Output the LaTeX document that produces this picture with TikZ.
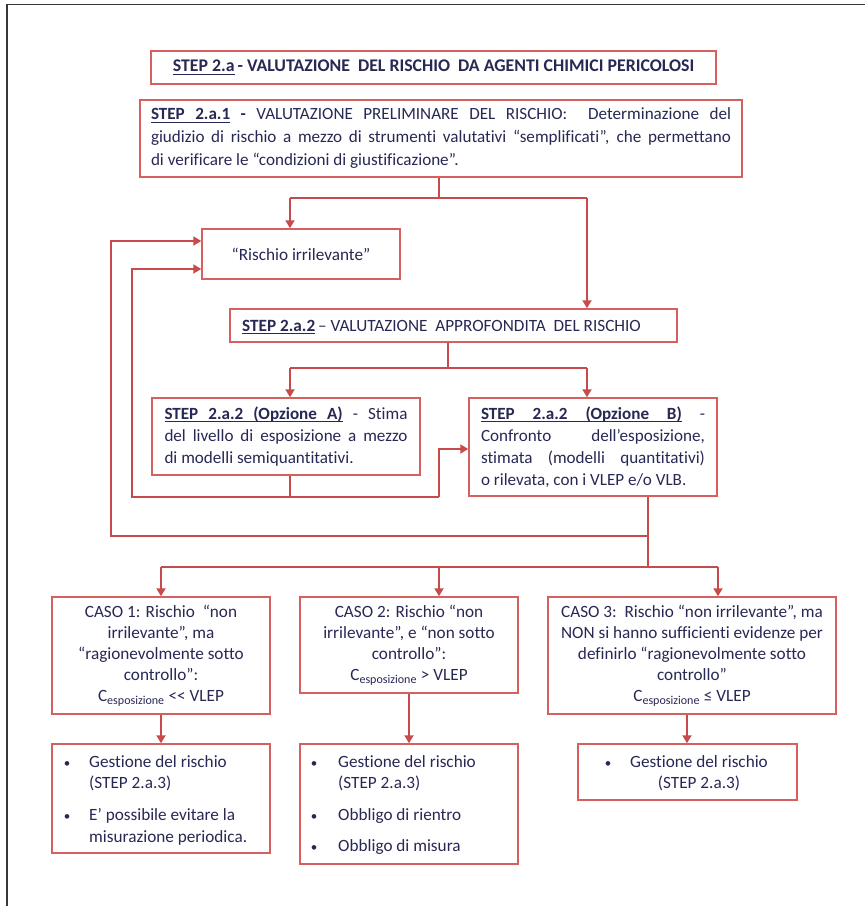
\documentclass[tikz,border=0pt]{standalone}
\usepackage{fontspec}
\setmainfont{Carlito}[Ligatures={TeX,NoCommon}]
\usetikzlibrary{arrows.meta}
\definecolor{navy}{RGB}{40,40,85}
\definecolor{redline}{RGB}{200,75,75}
\definecolor{redbox}{RGB}{214,96,96}
\definecolor{framegray}{RGB}{55,55,55}
\newcommand\uw[1]{\leavevmode\setbox0\hbox{#1}\rlap{\vrule height -1.8pt depth 3.0pt width \wd0}\box0}
\newcommand\us{\leaders\hrule height -1.8pt depth 3.0pt\hskip\fontdimen2\font plus\fontdimen3\font minus\fontdimen4\font}
\begin{document}
\begin{tikzpicture}[x=1pt,y=-1pt,
  box/.style={draw=redbox,line width=1.4pt,inner sep=0pt,text=navy},
  conn/.style={draw=redline,line width=1.8pt},
  arr/.style={conn,-{Triangle[length=8pt,width=9pt]}},
  f/.style={font=\fontsize{17.2}{21}\selectfont},
  txt/.style={text=navy,inner sep=0pt,font=\fontsize{17.2}{21}\selectfont},
  bul/.style={text=navy,inner sep=0pt,font=\fontsize{13}{21}\selectfont}]
\useasboundingbox (0,0) rectangle (865,906);
\fill[white] (0,0) rectangle (865,906);
% page frame
\draw[framegray,line width=1.5pt] (7,906) -- (7,4.5) -- (865,4.5);

% boxes
\node[box,minimum width=565,minimum height=33,font=\bfseries\fontsize{17.8}{20}\selectfont] (title) at (433.5,67.5)
  {\uw{STEP 2.a}\,- VALUTAZIONE\ \ DEL RISCHIO\ \ DA AGENTI CHIMICI PERICOLOSI};

\node[box,minimum width=602,minimum height=77,text width=580,align=justify,font=\fontsize{17.1}{23}\selectfont] (s1) at (441,138.5)
  {\textbf{\uw{STEP}\us\uw{2.a.1}} \textbf{-} VALUTAZIONE PRELIMINARE DEL RISCHIO:\ \ Determinazione del\linebreak giudizio di rischio a mezzo di strumenti valutativi “semplificati”, che permettano\linebreak di verificare le “condizioni di giustificazione”.};

\node[box,minimum width=198,minimum height=50,f] (ri) at (301,254) {“Rischio irrilevante”};

\node[box,minimum width=447,minimum height=33] (s2) at (453.5,325.5) {};
\node[txt,anchor=base west] (s2t) at (242,331) {\textbf{\uw{STEP 2.a.2}}\,– VALUTAZIONE\ \ APPROFONDITA\ \ DEL RISCHIO};

\node[box,minimum width=268,minimum height=77,text width=243,align=justify,font=\fontsize{17.1}{22}\selectfont] (oa) at (286,436.5)
  {\textbf{\uw{STEP}\us\uw{2.a.2}\us\uw{(Opzione}\us\uw{A)}} - Stima\linebreak del livello di esposizione a mezzo\linebreak di modelli semiquantitativi.};

\node[box,minimum width=248,minimum height=98,text width=224,align=justify,font=\fontsize{17.1}{22}\selectfont] (ob) at (593,447)
  {\textbf{\uw{STEP}\us\uw{2.a.2}\us\uw{(Opzione}\us\uw{B)}} -\linebreak Confronto dell’esposizione,\linebreak stimata (modelli quantitativi)\linebreak o rilevata, con i VLEP e/o VLB.};

\node[box,minimum width=218,minimum height=117,align=center,f] (c1) at (161,655.5)
  {CASO 1: Rischio\ \ “non\\irrilevante”, ma\\“ragionevolmente sotto\\controllo”:\\C\textsubscript{esposizione} <{}< VLEP};
\node[box,minimum width=218,minimum height=96,align=center,f] (c2) at (409,645)
  {CASO 2: Rischio “non\\irrilevante”, e “non sotto\\controllo”:\\C\textsubscript{esposizione} > VLEP};
\node[box,minimum width=288,minimum height=117,align=center,f] (c3) at (692,655.5)
  {CASO 3:\ \ Rischio “non irrilevante”, ma\\NON si hanno sufficienti evidenze per\\definirlo “ragionevolmente sotto\\controllo”\\C\textsubscript{esposizione} ≤ VLEP};

\node[box,minimum width=218,minimum height=109] (g1) at (161,798.5) {};
\node[bul,anchor=base] (g1b1) at (67,767) {•};
\node[txt,anchor=base west] (g1t1) at (89,767) {Gestione del rischio};
\node[txt,anchor=base west] (g1t2) at (89,788) {(STEP 2.a.3)};
\node[bul,anchor=base] (g1b2) at (67,820) {•};
\node[txt,anchor=base west] (g1t3) at (89,820) {E’ possibile evitare la};
\node[txt,anchor=base west] (g1t4) at (89,842) {misurazione periodica.};

\node[box,minimum width=218,minimum height=120] (g2) at (409,804) {};
\node[bul,anchor=base] (g2b1) at (314,767) {•};
\node[txt,anchor=base west] (g2t1) at (338,767) {Gestione del rischio};
\node[txt,anchor=base west] (g2t2) at (338,788) {(STEP 2.a.3)};
\node[bul,anchor=base] (g2b2) at (314,820) {•};
\node[txt,anchor=base west] (g2t3) at (338,820) {Obbligo di rientro};
\node[bul,anchor=base] (g2b3) at (314,851) {•};
\node[txt,anchor=base west] (g2t4) at (338,851) {Obbligo di misura};

\node[box,minimum width=219,minimum height=56] (g3) at (687.5,772) {};
\node[bul,anchor=base] (g3b1) at (608,767) {•};
\node[txt,anchor=base west] (g3t1) at (630,767) {Gestione del rischio};
\node[txt,anchor=base] (g3t2) at (699,788) {(STEP 2.a.3)};

% connectors
\coordinate (a1) at (439,198);
\coordinate (a1l) at (290,198);
\coordinate (a1r) at (587,198);
\draw[conn] (a1 |- s1.south) -- (a1);
\draw[conn] (a1l) -- (a1r);
\draw[arr] (a1l) -- (a1l |- ri.north);
\draw[arr] (a1r) -- (a1r |- s2.north);

\coordinate (b1) at (448,368);
\coordinate (b1l) at (290,368);
\coordinate (b1r) at (587,368);
\draw[conn] (b1 |- s2.south) -- (b1);
\draw[conn] (b1l) -- (b1r);
\draw[arr] (b1l) -- (b1l |- oa.north);
\draw[arr] (b1r) -- (b1r |- ob.north);

\coordinate (p) at (290,497);
\coordinate (i1) at (132,497);
\coordinate (i2) at (439,497);
\coordinate (i3) at (132,269);
\coordinate (i4) at (439,449);
\draw[conn] (p |- oa.south) -- (p);
\draw[arr] (i2) -- (i1) -- (i3) -- (i3 -| ri.west);
\draw[arr] (i2) -- (i4) -- (i4 -| ob.west);

\coordinate (c0) at (648,567);
\coordinate (o1) at (648,536);
\coordinate (o2) at (111,536);
\coordinate (o3) at (111,241);
\draw[conn] (c0 |- ob.south) -- (c0);
\draw[arr] (o1) -- (o2) -- (o3) -- (o3 -| ri.west);

\coordinate (cl) at (161,567);
\coordinate (cm) at (439,567);
\coordinate (cr) at (718,567);
\draw[conn] (cl) -- (cr);
\draw[arr] (cl) -- (cl |- c1.north);
\draw[arr] (cm) -- (cm |- c2.north);
\draw[arr] (cr) -- (cr |- c3.north);

\coordinate (d1) at (161,0);
\coordinate (d2) at (409,0);
\coordinate (d3) at (687,0);
\draw[arr] (d1 |- c1.south) -- (d1 |- g1.north);
\draw[arr] (d2 |- c2.south) -- (d2 |- g2.north);
\draw[arr] (d3 |- c3.south) -- (d3 |- g3.north);
\end{tikzpicture}
\end{document}
